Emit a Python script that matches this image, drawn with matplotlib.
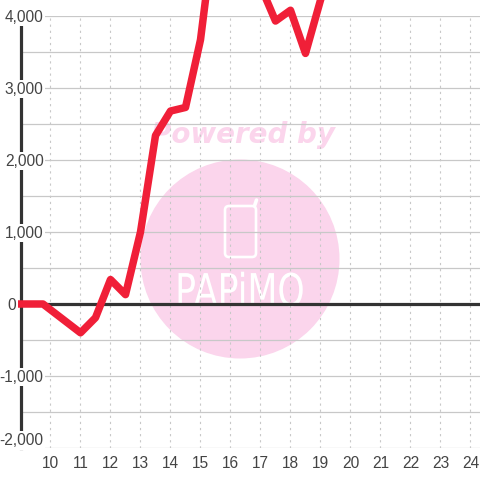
"""
Hourly profit line with the pink watermark behind it.
"""
import matplotlib
matplotlib.use('Agg')
import matplotlib.pyplot as plt
import matplotlib.patheffects as pe
from matplotlib.patches import Circle, FancyBboxPatch
from matplotlib.transforms import Affine2D

plt.rcParams['font.family'] = ['Liberation Sans', 'DejaVu Sans']

# --- values ---
hours = [9, 9.75, 11, 11.5, 12, 12.5, 13, 13.5, 14, 14.5, 15, 15.5, 16, 16.5, 17, 17.5, 18, 18.5, 19, 19.5]
profit = [0, 0, -400, -190, 340, 130, 1000, 2340, 2680, 2730, 3670, 5330, 5500, 5500, 4420, 3930, 4080, 3480, 4220, 4900]

x_ticks = list(range(10, 25))
y_major = [-2000, -1000, 0, 1000, 2000, 3000, 4000]
y_minor = [-1500, -500, 500, 1500, 2500, 3500]
y_labels = ['-2,000', '-1,000', '0', '1,000', '2,000', '3,000', '4,000']

PINK = '#fbd5ec'
GRID = '#c8c8c8'
DARK = '#333333'
TEXT = '#444444'


class Stretch(pe.AbstractPathEffect):
    """Scale the glyphs vertically, the logo lettering is tall and narrow."""
    def __init__(self, sy):
        super().__init__()
        self.sy = sy

    def draw_path(self, renderer, gc, tpath, affine, rgbFace=None):
        renderer.draw_path(gc, tpath, Affine2D().scale(1, self.sy) + affine, rgbFace)


fig = plt.figure(figsize=(4.8, 4.8), dpi=100, facecolor='white')

# ─── Watermark, in pixel coordinates ──────────────────────────────────────────
bg = fig.add_axes([0, 0, 1, 1], zorder=0)
bg.set_xlim(0, 480)
bg.set_ylim(480, 0)
bg.axis('off')
bg.add_patch(Circle((240, 259), 99.5, fc=PINK, ec='none'))
bg.text(243, 135, 'Powered by', color=PINK, fontsize=20, fontweight='bold', fontstyle='italic',
        family='DejaVu Sans', ha='center', va='center')
bg.add_patch(FancyBboxPatch((225, 206), 31, 51, boxstyle='round,pad=0,rounding_size=4',
                            fc='none', ec='white', lw=1.9))
bg.plot([254.5, 256.5], [206, 200], color='white', lw=2.6, solid_capstyle='round')
logo = bg.text(240, 306, 'PAPiMO', color='white', fontsize=25, family='DejaVu Sans',
               ha='center', va='baseline')
logo.set_path_effects([Stretch(1.3)])

# ─── Chart ────────────────────────────────────────────────────────────────────
ax = fig.add_axes([20.5 / 480, 32 / 480, 459.5 / 480, 432 / 480], zorder=1)
ax.patch.set_alpha(0)
ax.set_xlim(9, 24.317)
ax.set_ylim(-2000, 4000)

ax.set_xticks(x_ticks)
ax.set_yticks(y_major)
ax.set_yticks(y_minor, minor=True)
ax.set_yticklabels([])
ax.tick_params(axis='both', which='both', length=0)
ax.tick_params(axis='x', labelsize=11.2, labelcolor=TEXT, pad=5.5)
ax.grid(True, axis='y', which='both', color=GRID, lw=0.9)
ax.grid(True, axis='x', color=GRID, lw=0.8, linestyle=(0, (2, 3.5)))
ax.set_axisbelow(True)

for side in ['top', 'right', 'bottom']:
    ax.spines[side].set_visible(False)
ax.spines['left'].set_color(DARK)
ax.spines['left'].set_linewidth(2.3)
ax.spines['left'].set_zorder(2)

ax.axhline(0, color=DARK, lw=2.3, zorder=2)
ax.plot(hours, profit, color='#f01f38', lw=5.4, clip_on=False, zorder=3)

for v, lab in zip(y_major, y_labels):
    offset = -4.5 if v == 0 else 23
    ax.annotate(lab, xy=(0, v), xycoords=ax.get_yaxis_transform(),
                xytext=(offset, 0 if v == -2000 else -1), textcoords='offset pixels',
                ha='right', va='bottom' if v == -2000 else 'center',
                fontsize=11.2, color=TEXT, zorder=4,
                bbox=dict(fc='white', ec='none', pad=1.2))

plt.savefig('out.png', dpi=100)
plt.close()
